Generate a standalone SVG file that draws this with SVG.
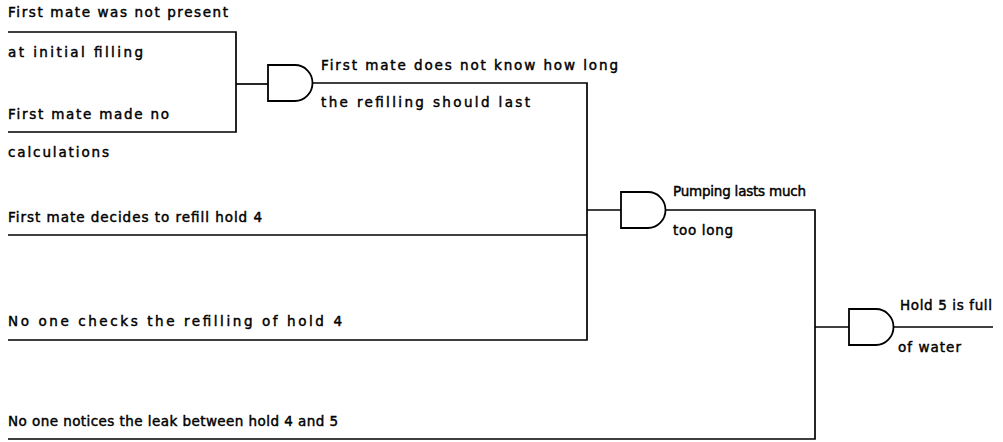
<svg xmlns="http://www.w3.org/2000/svg" width="1003" height="442" viewBox="0 0 1003 442">
<style>
.w{fill:none;stroke:#000;stroke-width:1.7;stroke-linejoin:miter}
.g{fill:#fff;stroke:#000;stroke-width:1.8}
text{font-family:"DejaVu Sans","Liberation Sans",sans-serif;font-size:13.5px;fill:#000;stroke:#000;stroke-width:0.45}
</style>
<defs>
<path id="and" d="M0,0 H27 A17.5,18 0 0 1 27,36 H0 Z"/>
</defs>
<rect width="1003" height="442" fill="#fff"/>
<g id="connectors">
<path class="w" d="M8,32 H236 V132 H8"/>
<path class="w" d="M236,84 H268"/>
<path class="w" d="M313,83 H587 V340 H8"/>
<path class="w" d="M8,235 H587"/>
<path class="w" d="M587,210 H621"/>
<path class="w" d="M665,210 H815 V439 H8"/>
<path class="w" d="M815,327 H849"/>
<path class="w" d="M894,327 H993"/>
</g>
<g id="e1"><text x="8" y="17" textLength="220" lengthAdjust="spacing">First mate was not present</text><text x="8" y="57" textLength="135" lengthAdjust="spacing">at initial filling</text></g>
<g id="e2"><text x="8" y="119" textLength="161" lengthAdjust="spacing">First mate made no</text><text x="8" y="157" textLength="101" lengthAdjust="spacing">calculations</text></g>
<g id="gate1"><use href="#and" class="g" x="268" y="65"/></g>
<g id="e3"><text x="321" y="70" textLength="297" lengthAdjust="spacing">First mate does not know how long</text><text x="321" y="107" textLength="209" lengthAdjust="spacing">the refilling should last</text></g>
<g id="e4"><text x="8" y="222" textLength="254" lengthAdjust="spacing">First mate decides to refill hold 4</text></g>
<g id="e5"><text x="8" y="326" textLength="334" lengthAdjust="spacing">No one checks the refilling of hold 4</text></g>
<g id="gate2"><use href="#and" class="g" x="621" y="192"/></g>
<g id="e6"><text x="673" y="196" textLength="133" lengthAdjust="spacing">Pumping lasts much</text><text x="673" y="235" textLength="60" lengthAdjust="spacing">too long</text></g>
<g id="gate3"><use href="#and" class="g" x="849" y="309"/></g>
<g id="e7"><text x="900" y="310" textLength="92" lengthAdjust="spacing">Hold 5 is full</text><text x="898" y="352" textLength="63" lengthAdjust="spacing">of water</text></g>
<g id="e8"><text x="8" y="426" textLength="330" lengthAdjust="spacing">No one notices the leak between hold 4 and 5</text></g>
</svg>
